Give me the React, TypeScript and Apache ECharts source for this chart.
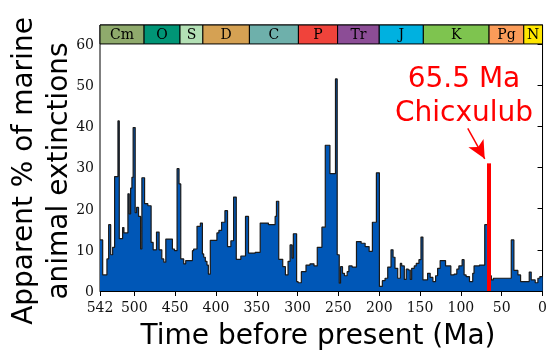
import React, { useEffect, useRef } from 'react';
import * as echarts from 'echarts';

// Older edge (Ma) of each time bin, and the apparent extinction % in that bin
const binStartMa = [
  542, 538.7, 533.5, 531.4, 528.9, 526.5, 524.1, 520.0, 518.4, 514.3, 512.7, 507.8, 506.2, 504.5, 502.9, 501.4,
  498.9, 497.2, 494.8, 492.3, 490.7, 487.4, 483.4, 479.4, 476.9, 472.8, 469.6, 466.3, 463.9, 461.4, 453.3, 450.8,
  447.6, 445.2, 443.1, 439.5, 437.0, 428.8, 427.3, 423.2, 419.1, 416.6, 415.0, 413.0, 411.0, 409.3, 406.9, 398.8,
  396.4, 393.1, 389.0, 385.8, 381.7, 378.4, 375.1, 369.5, 363.8, 360.1, 351.9, 345.8, 335.7, 327.5, 325.9, 323.1,
  318.2, 314.9, 311.7, 309.2, 306.8, 305.2, 301.2, 299.4, 295.4, 289.7, 284.8, 279.9, 275.9, 270.2, 266.1, 260.4,
  253.6, 251.5, 249.0, 247.4, 245.0, 242.6, 239.3, 237.2, 233.2, 227.9, 222.2, 217.3, 212.4, 208.4, 203.5, 199.8,
  196.2, 192.9, 189.6, 185.6, 183.1, 180.7, 177.4, 174.2, 172.5, 169.3, 166.9, 164.4, 162.0, 160.3, 157.1, 154.7,
  151.4, 148.9, 146.5, 140.8, 137.6, 134.3, 131.0, 128.5, 125.4, 118.8, 112.3, 108.3, 105.0, 102.5, 98.5, 96.1,
  93.6, 89.5, 85.5, 83.9, 77.3, 70.8, 65.5, 62.7, 60.3, 38.3, 35.1, 30.2, 26.9, 16.3, 13.9, 9.0, 5.7, 3.3
];
const extinctionPct = [
  12.4, 3.9, 7.8, 16.1, 8.8, 10.6, 27.8, 41.3, 12.7, 15.4, 14.1, 23.6, 18.7, 25.0, 27.6, 39.7,
  19.0, 20.3, 18.1, 10.2, 27.5, 21.2, 20.7, 11.8, 10.0, 14.3, 10.0, 7.8, 7.0, 12.6, 10.2, 9.8,
  29.7, 26.0, 7.8, 6.6, 7.4, 9.8, 10.2, 15.7, 16.5, 9.0, 8.2, 7.2, 6.3, 4.1, 12.3, 14.1,
  14.7, 16.7, 19.5, 10.8, 12.2, 22.8, 7.7, 8.5, 18.1, 9.2, 9.4, 16.5, 16.1, 18.1, 21.8, 7.7,
  5.9, 3.9, 7.2, 11.2, 8.0, 13.9, 2.3, 2.0, 4.7, 6.3, 6.6, 6.1, 10.6, 15.5, 35.4, 28.5,
  51.5, 8.8, 1.9, 5.9, 4.3, 3.7, 4.7, 6.1, 5.8, 12.0, 11.6, 10.8, 9.6, 16.7, 28.7, 1.1,
  2.5, 3.1, 5.8, 10.0, 8.2, 5.5, 3.1, 6.7, 6.1, 2.8, 5.3, 5.1, 2.8, 5.5, 6.1, 6.7,
  7.6, 13.1, 2.7, 4.3, 3.3, 2.3, 3.7, 5.5, 7.4, 6.1, 3.9, 4.1, 5.3, 6.1, 7.6, 3.9,
  3.5, 2.3, 4.3, 6.1, 6.3, 16.1, 3.7, 2.7, 3.1, 12.4, 5.0, 3.9, 2.3, 4.6, 2.7, 2.0, 3.1, 3.5
];

const periodNames = ['Cm', 'O', 'S', 'D', 'C', 'P', 'Tr', 'J', 'K', 'Pg', 'N'];
const periodStartMa = [542, 488, 444, 416, 359, 299, 251, 200, 146, 65.5, 23];
const periodEndMa = [488, 444, 416, 359, 299, 251, 200, 146, 65.5, 23, 0];
const periodColors = ['#8FAA6C', '#009576', '#B3E0B5', '#D5A153', '#6EB0AB', '#F0433B', '#8C4D96', '#00B1E0', '#7EC44F', '#FB9C59', '#FFE600'];

const xTickValues = [542, 500, 450, 400, 350, 300, 250, 200, 150, 100, 50, 0];
const yTickValues = [0, 10, 20, 30, 40, 50, 60];
const periodBandBottom = 60;
const yMax = 64.6;

const impactMa = 65.5;
const impactLineTop = 31;
const arrowFrom = [91.6, 39.5];
const arrowTo = [70.8, 32.1];

export default function App() {
  const ref = useRef<HTMLDivElement>(null);
  useEffect(() => {
    const chart = echarts.init(ref.current!, null, { renderer: 'svg' });
    const data: number[][] = binStartMa.map((t, i) => [t, extinctionPct[i]]);
    data.push([0, extinctionPct[extinctionPct.length - 1]]);

    const serif = 'DejaVu Serif';
    const sans = 'DejaVu Sans';

    chart.setOption({
      animation: false,
      grid: { left: 100, right: 6, top: 25, bottom: 59, show: true, borderColor: '#000', borderWidth: 1, backgroundColor: 'transparent' },
      xAxis: {
        type: 'value', min: 0, max: 542, inverse: true,
        axisLine: { show: true, lineStyle: { color: '#000', width: 1 } },
        axisTick: { show: true, length: 5, lineStyle: { color: '#000' }, customValues: xTickValues },
        axisLabel: { customValues: xTickValues, fontFamily: serif, fontSize: 14, color: '#111', margin: 9 },
        splitLine: { show: false }
      },
      yAxis: {
        type: 'value', min: 0, max: yMax,
        axisLine: { show: true, lineStyle: { color: '#000', width: 1 } },
        axisTick: { show: true, length: 5, lineStyle: { color: '#000' }, customValues: yTickValues },
        axisLabel: { customValues: yTickValues, fontFamily: serif, fontSize: 14, color: '#111', margin: 6 },
        splitLine: { show: false }
      },
      series: [
        {
          type: 'line', step: 'end', data, symbol: 'none', silent: true,
          lineStyle: { color: '#1a1a1a', width: 1.2 },
          areaStyle: { color: '#0057B7', opacity: 1 },
          markArea: {
            silent: true,
            label: { show: true, position: 'inside', fontFamily: serif, fontSize: 14, color: '#000' },
            data: periodNames.map((n, i) => [
              { name: n, xAxis: periodStartMa[i], yAxis: periodBandBottom, itemStyle: { color: periodColors[i], opacity: 1, borderColor: '#000', borderWidth: 1 } },
              { xAxis: periodEndMa[i], yAxis: yMax }
            ])
          },
          markLine: {
            silent: true,
            symbol: ['none', 'none'],
            label: { show: false },
            data: [
              [
                { coord: [impactMa, 0], lineStyle: { color: '#FF0000', width: 4, type: 'solid', cap: 'butt' } },
                { coord: [impactMa, impactLineTop] }
              ],
              [
                { coord: arrowFrom, symbol: 'none', lineStyle: { color: '#FF0000', width: 1.5, type: 'solid' } },
                { coord: arrowTo, symbol: 'arrow', symbolSize: [13, 18] }
              ]
            ]
          }
        }
      ],
      graphic: [
        {
          type: 'text', x: 40, y: 171, rotation: Math.PI / 2,
          style: { text: 'Apparent % of marine\nanimal extinctions', fontFamily: sans, fontSize: 28, fill: '#000', align: 'center', verticalAlign: 'middle', textAlign: 'center', textVerticalAlign: 'middle', lineHeight: 35 }
        },
        {
          type: 'text', x: 318, y: 334,
          style: { text: 'Time before present (Ma)', fontFamily: sans, fontSize: 28, fill: '#000', align: 'center', verticalAlign: 'middle', textAlign: 'center', textVerticalAlign: 'middle' }
        },
        {
          type: 'text', x: 464, y: 60,
          style: { text: '65.5 Ma\nChicxulub', fontFamily: sans, fontSize: 28, fill: '#FF0000', align: 'center', verticalAlign: 'top', textAlign: 'center', textVerticalAlign: 'top', lineHeight: 34 }
        }
      ]
    });
    return () => chart.dispose();
  }, []);
  return <div ref={ref} style={{ position: 'fixed', left: 0, top: 0, width: 550, height: 350 }} />;
}
